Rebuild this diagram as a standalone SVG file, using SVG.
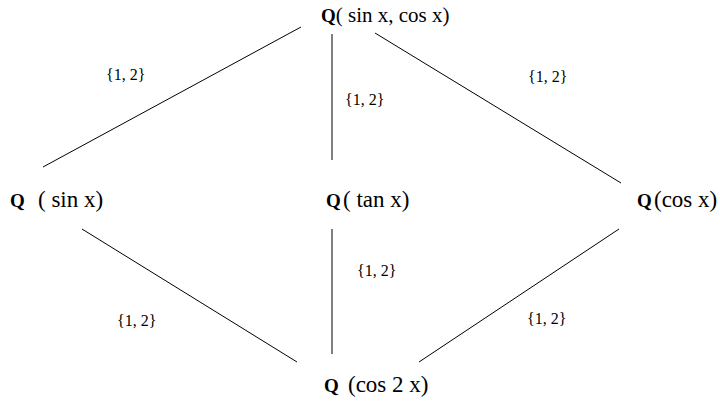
<svg xmlns="http://www.w3.org/2000/svg" width="720" height="403" viewBox="0 0 720 403">
<style>
text{font-family:"Liberation Serif","Times New Roman",serif;fill:#000}
.n{font-size:21px}
.m{font-size:23px}
.q{font-weight:bold;font-size:19px}
.l{font-size:16px}
.e{stroke:#000;stroke-width:1;fill:none}
</style>
<rect width="720" height="403" fill="#fff"/>
<g id="connectors">
<line class="e" x1="301" y1="27" x2="43" y2="167"/>
<line class="e" x1="332" y1="34" x2="332" y2="160"/>
<line class="e" x1="375" y1="33" x2="621" y2="183"/>
<line class="e" x1="82" y1="229" x2="297" y2="362"/>
<line class="e" x1="332" y1="229" x2="332" y2="354"/>
<line class="e" x1="619" y1="229" x2="419" y2="362"/>
<text class="l" x="106" y="80">{1, 2}</text>
<text class="l" x="345" y="105">{1, 2}</text>
<text class="l" x="528" y="82">{1, 2}</text>
<text class="l" x="357" y="276">{1, 2}</text>
<text class="l" x="117" y="326">{1, 2}</text>
<text class="l" x="527" y="324">{1, 2}</text>
</g>
<g id="n-top"><text class="n" x="321" y="22"><tspan class="q">Q</tspan>( sin x, cos x)</text></g>
<g id="n-sin"><text class="m" y="207"><tspan class="q" x="10">Q</tspan><tspan x="38">( sin x)</tspan></text></g>
<g id="n-tan"><text class="m" y="207"><tspan class="q" x="326">Q</tspan><tspan x="343">( tan x)</tspan></text></g>
<g id="n-cos"><text class="m" y="207"><tspan class="q" x="637">Q</tspan><tspan x="654">(cos x)</tspan></text></g>
<g id="n-cos2"><text class="m" y="392"><tspan class="q" x="324">Q</tspan><tspan x="348">(cos 2 x)</tspan></text></g>
</svg>
